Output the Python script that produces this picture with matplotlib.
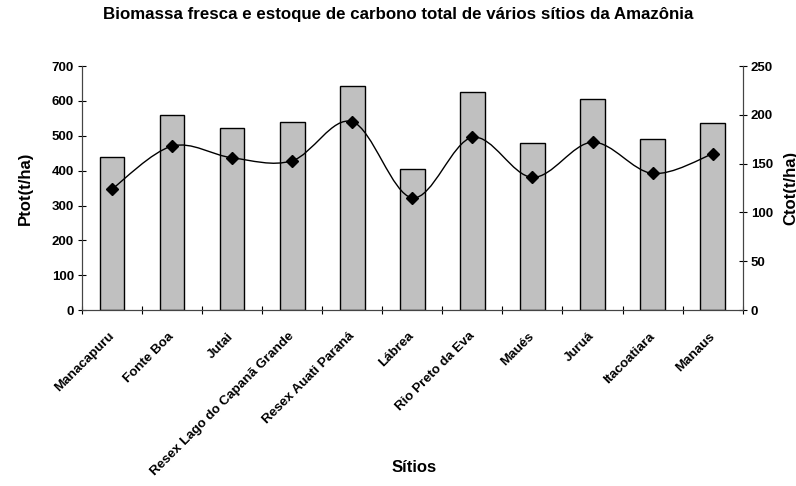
import matplotlib.pyplot as plt
import matplotlib.transforms as mtransforms
from matplotlib.path import Path
from matplotlib.patches import PathPatch
import numpy as np

plt.rcParams['font.family'] = ['Liberation Sans', 'DejaVu Sans']
plt.rcParams['font.weight'] = 'bold'

# Data
sitios = ['Manacapuru', 'Fonte Boa', 'Jutai', 'Resex Lago do Capanã Grande',
          'Resex Auati Paraná', 'Lábrea', 'Rio Preto da Eva', 'Maués',
          'Juruá', 'Itacoatiara', 'Manaus']
ptot = [438, 559, 522, 541, 643, 404, 625, 478, 607, 492, 537]
ctot = [124, 168, 156, 153, 193, 115, 177, 136, 172, 140, 160]

fig = plt.figure(figsize=(7.96, 4.86), dpi=100)
ax = fig.add_axes([0.103, 0.362, 0.830, 0.502])
ax2 = ax.twinx()

x = np.arange(len(sitios))
ax.bar(x, ptot, width=0.41, color='#C0C0C0', edgecolor='black', linewidth=1)
ax.set_xlim(-0.5, len(sitios) - 0.5)
ax.set_ylim(0, 700)
ax.set_yticks(range(0, 701, 100))

# smoothed line (Excel style) as bezier path through the points
pts = np.column_stack([x, ctot]).astype(float)
verts = [tuple(pts[0])]
codes = [Path.MOVETO]
n = len(pts)
for i in range(n - 1):
    p0 = pts[max(i - 1, 0)]
    p1 = pts[i]
    p2 = pts[i + 1]
    p3 = pts[min(i + 2, n - 1)]
    c1 = p1 + (p2 - p0) / 6.0
    c2 = p2 - (p3 - p1) / 6.0
    verts += [tuple(c1), tuple(c2), tuple(p2)]
    codes += [Path.CURVE4] * 3
ax2.add_patch(PathPatch(Path(verts, codes), facecolor='none', edgecolor='black', linewidth=1))
ax2.plot(x, ctot, linestyle='none', marker='D', markersize=6.5, color='black')
ax2.set_ylim(0, 250)
ax2.set_yticks(range(0, 251, 50))

# ticks between categories, labels centred on categories
ax.set_xticks(np.arange(len(sitios) + 1) - 0.5, minor=False)
ax.set_xticklabels([])
ax.set_xticks(x, minor=True)
ax.set_xticklabels(sitios, minor=True, rotation=45, ha='right', va='center',
                   rotation_mode='anchor', fontsize=9.6, fontweight='bold')
shift = mtransforms.ScaledTranslation(-11 / 100, 0, fig.dpi_scale_trans)
for lab in ax.get_xticklabels(minor=True):
    lab.set_transform(lab.get_transform() + shift)
ax.tick_params(axis='x', which='minor', length=0, pad=17.5)
ax.tick_params(axis='x', which='major', direction='inout', length=5.5)
ax.tick_params(axis='y', direction='inout', length=5.5, labelsize=9.5, pad=3)
ax2.tick_params(axis='y', direction='inout', length=5.5, labelsize=9.5, pad=3)

for a in (ax, ax2):
    a.spines['top'].set_visible(False)
    for s in a.spines.values():
        s.set_color('#444444')

ax.set_ylabel('Ptot(t/ha)', fontsize=12, fontweight='bold')
ax.yaxis.set_label_coords(-0.074, 0.5)
ax2.set_ylabel('Ctot(t/ha)', fontsize=12, fontweight='bold')
ax2.yaxis.set_label_coords(1.062, 0.5)
fig.text(414 / 796, 1 - 468 / 486, 'Sítios', ha='center', va='center',
         fontsize=12, fontweight='bold')
fig.text(0.5, 1 - 15 / 486, 'Biomassa fresca e estoque de carbono total de vários sítios da Amazônia',
         ha='center', va='center', fontsize=12.2, fontweight='bold')

fig.savefig('out.png', dpi=100)
